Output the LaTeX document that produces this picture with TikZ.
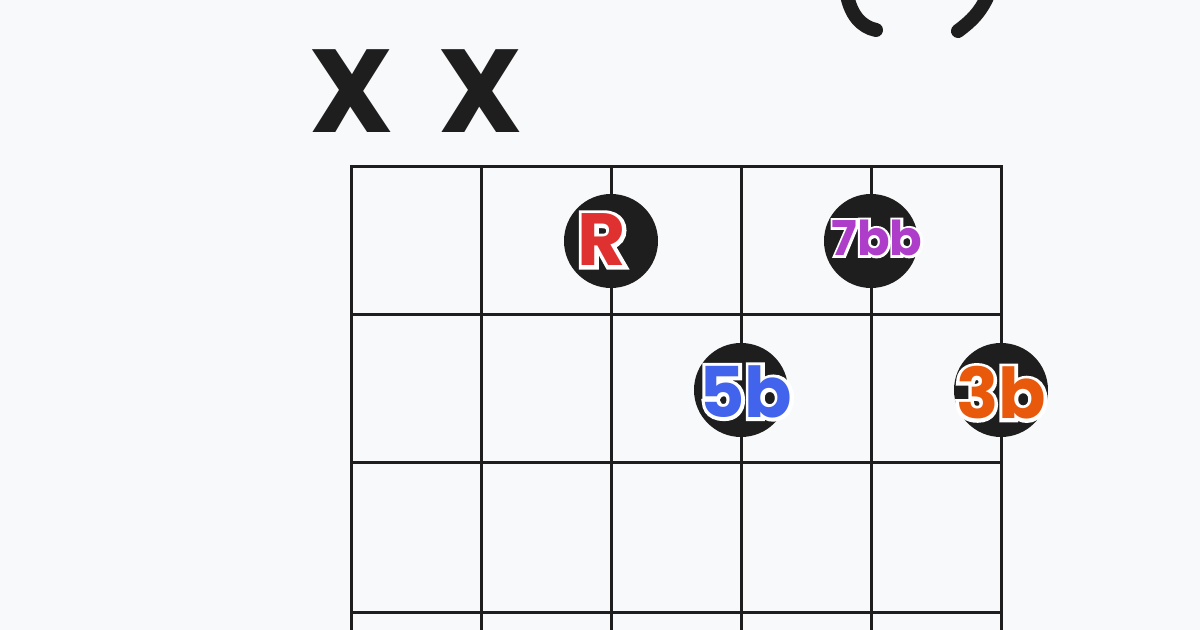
\documentclass[tikz,border=0pt]{standalone}
\usepackage{fontspec}
\setmainfont{Poppins}
\newfontfamily\outlinefont{Poppins}[FakeBold=10, BoldFeatures={FakeBold=10}]
\definecolor{bg}{HTML}{F8F9FA}
\definecolor{ink}{HTML}{1E1E1E}
\definecolor{cred}{HTML}{E03131}
\definecolor{cpurple}{HTML}{AE3EC9}
\definecolor{cblue}{HTML}{4263EB}
\definecolor{corange}{HTML}{E8590C}
\tikzset{
  gridline/.style={draw=ink, line width=1.5pt, line cap=rect},
  fdot/.style={circle, fill=ink, minimum size=47pt, inner sep=0pt},
  mute/.style={font=\fontsize{59}{60}\selectfont\bfseries, text=ink, inner sep=0pt},
  paren/.style={draw=ink, line width=7pt, line cap=round},
  notetext/.style={font=\fontsize{#1}{#1}\selectfont\bfseries, inner sep=0pt},
}
% white outline glyph, advancing by the normal glyph width
\newcommand\wg[1]{\rlap{\outlinefont\bfseries\color{white}#1}\hphantom{#1}}
\begin{document}
\begin{tikzpicture}[x=0.5pt,y=-0.5pt]
\fill[bg] (0,0) rectangle (1200,630);
\useasboundingbox (0,0) rectangle (1200,630);
\begin{scope}
\clip (0,0) rectangle (1200,630);
% title fragments (cut off at the top)
\coordinate (pl1) at (846,-10);
\coordinate (pl2) at (876,30);
\draw[paren] (pl1) .. controls (850,16) and (862,27) .. (pl2);
\coordinate (pr1) at (990,-10);
\coordinate (pr2) at (958,31);
\draw[paren] (pr1) .. controls (982,12) and (970,22) .. (pr2);
% muted strings
\node[mute] (x1) at (351.5,91) {X};
\node[mute] (x2) at (481,91) {X};
% grid
\foreach \x in {351,481,611,741,871,1001}
  \draw[gridline] (\x,167) -- (\x,650);
\foreach \y in {167,315,463,612}
  \draw[gridline] (351,\y) -- (1001,\y);
% finger dots
\node[fdot] (dR) at (611,241) {};
\node[fdot] (d7) at (871,241) {};
\node[fdot] (d5) at (741,390) {};
\node[fdot] (d3) at (1001,390) {};
% labels
\node[notetext=37] (lR) at (602,240) {\rlap{\wg{R}}\textcolor{cred}{R}};
\node[notetext=24] (l7) at (877,238) {\rlap{\wg{7}\wg{b}\wg{b}}\textcolor{cpurple}{7bb}};
\node[notetext=35] (l5) at (746,392) {\rlap{\wg{5}\wg{b}}\textcolor{cblue}{5b}};
\node[notetext=35] (l3) at (1001,393) {\rlap{\wg{3}\wg{b}}\textcolor{corange}{3b}};
\end{scope}
\end{tikzpicture}
\end{document}
